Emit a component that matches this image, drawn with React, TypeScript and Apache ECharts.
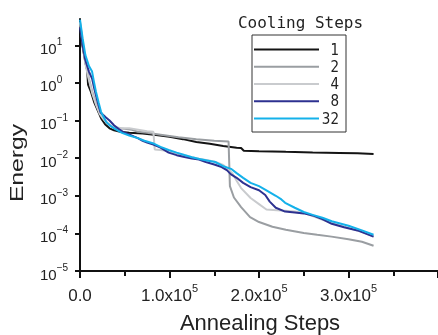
import React, { useEffect, useRef } from 'react';
import * as echarts from 'echarts';

const FONT = '"Liberation Sans", Arial, Helvetica, sans-serif';
const NARROW = '"Liberation Sans Narrow", "DejaVu Sans Condensed", "Liberation Sans", sans-serif';
const MONO = '"DejaVu Sans Mono", "Liberation Mono", monospace';

const legendTitle = 'Cooling Steps';
const xTitle = 'Annealing Steps';
const yTitle = 'Energy';

const seriesNames = ['1', '2', '4', '8', '32'];
const seriesColors = ['#141414', '#9a9ea2', '#c9cbce', '#2d3190', '#14b1ea'];

const cool1: [number, number][] = [
  [0, 22], [3000, 9], [6000, 3.5], [8000, 2.2], [9000, 0.9], [12000, 0.6], [16000, 0.3],
  [20000, 0.18], [24000, 0.11], [28000, 0.08], [33000, 0.062], [38000, 0.055], [45000, 0.05],
  [55000, 0.047], [70000, 0.045], [85000, 0.041], [100000, 0.037], [115000, 0.032],
  [130000, 0.027], [145000, 0.024], [160000, 0.021], [175000, 0.019], [180000, 0.0185],
  [183000, 0.0158], [200000, 0.0153], [230000, 0.0147], [260000, 0.0142], [290000, 0.0138],
  [310000, 0.0134], [328000, 0.0128],
];

const cool2: [number, number][] = [
  [0, 42], [3000, 12], [6000, 3.5], [10000, 1.3], [14000, 0.55], [18000, 0.28], [22000, 0.16],
  [26000, 0.12], [30000, 0.088], [35000, 0.07], [42000, 0.062], [50000, 0.06], [58000, 0.057],
  [65000, 0.05], [75000, 0.047], [90000, 0.042], [110000, 0.036], [130000, 0.032],
  [150000, 0.029], [166000, 0.0275], [167500, 0.0018], [172000, 0.0009], [180000, 0.0005],
  [190000, 0.00027], [200000, 0.0002], [215000, 0.00015], [230000, 0.000125], [250000, 0.000103],
  [265000, 0.000092], [281000, 0.000082], [300000, 0.00007], [315000, 0.00006], [328000, 0.000047],
];

const cool4: [number, number][] = [
  [0, 40], [3000, 11], [6000, 3.2], [10000, 1.2], [14000, 0.5], [18000, 0.26], [22000, 0.15],
  [26000, 0.11], [30000, 0.085], [36000, 0.068], [45000, 0.063], [55000, 0.062], [65000, 0.057],
  [75000, 0.052], [82000, 0.05], [83500, 0.017], [90000, 0.0165], [100000, 0.0152],
  [117000, 0.0118], [133000, 0.0096], [150000, 0.0082], [160000, 0.0066], [166700, 0.0048],
  [170000, 0.004], [175000, 0.0025], [180000, 0.0016], [190600, 0.00087], [200000, 0.0006],
  [208300, 0.00043], [220000, 0.00041], [229000, 0.0004], [240000, 0.00038], [250000, 0.00035],
  [260000, 0.00029], [271000, 0.00023], [281000, 0.00019], [300000, 0.00014], [315000, 0.00011],
  [328000, 0.000082],
];

const cool8: [number, number][] = [
  [0, 30], [3000, 10], [6000, 4], [10000, 2.0], [13500, 1.3], [16000, 0.7], [18500, 0.4],
  [20800, 0.25], [22900, 0.165], [26000, 0.14], [29000, 0.12], [33000, 0.1], [38000, 0.075],
  [43000, 0.06], [48000, 0.05], [55000, 0.043], [60000, 0.038], [64600, 0.034], [70000, 0.029],
  [75000, 0.026], [82000, 0.023], [90000, 0.019], [99000, 0.014], [108000, 0.012],
  [116700, 0.0107], [125000, 0.0098], [133000, 0.0092], [140600, 0.0079], [150000, 0.0068],
  [158300, 0.0058], [164000, 0.0048], [168750, 0.0037], [175000, 0.003], [182300, 0.0022],
  [190600, 0.0017], [200000, 0.0014], [207000, 0.00105], [212000, 0.0007], [218750, 0.00048],
  [229200, 0.00038], [240000, 0.00036], [250000, 0.00034], [260000, 0.0003], [270800, 0.00024],
  [281250, 0.00018], [295000, 0.000145], [310000, 0.00012], [328000, 0.000082],
];

const cool32: [number, number][] = [
  [0, 48], [3000, 15], [6000, 5.5], [10000, 2.8], [13500, 2.0], [15500, 1.1], [17700, 0.6],
  [20800, 0.3], [23500, 0.17], [26000, 0.13], [29200, 0.092], [34000, 0.072], [40000, 0.058],
  [46900, 0.047], [55000, 0.04], [64600, 0.034], [72000, 0.029], [81300, 0.025], [90000, 0.02],
  [99000, 0.0165], [108000, 0.014], [116700, 0.0121], [125000, 0.0106], [133300, 0.0095],
  [142000, 0.0087], [151000, 0.0079], [159400, 0.0062], [168750, 0.0052], [175000, 0.004],
  [182300, 0.003], [190600, 0.0022], [200000, 0.0018], [208300, 0.0014], [218750, 0.001],
  [225000, 0.0008], [229200, 0.00065], [240000, 0.00048], [250000, 0.00037], [260000, 0.00031],
  [270800, 0.00026], [281250, 0.00021], [300000, 0.00016], [315000, 0.00012], [328000, 0.000092],
];

const allSeries = [cool1, cool2, cool4, cool8, cool32];
const yTickValues = [1e-5, 1e-4, 1e-3, 1e-2, 1e-1, 1, 10];

export default function App() {
  const ref = useRef<HTMLDivElement>(null);
  useEffect(() => {
    if (!ref.current) return;
    const chart = echarts.init(ref.current, null, { renderer: 'svg' });
    const option: any = {
      animation: false,
      textStyle: { fontFamily: FONT },
      grid: { left: 80, top: 19, width: 384, height: 252 },
      xAxis: {
        type: 'value',
        min: 0,
        max: 400000,
        interval: 100000,
        axisLine: { show: true, onZero: false, lineStyle: { color: '#111', width: 2 } },
        axisTick: { show: true, length: 7, lineStyle: { color: '#111', width: 2 } },
        minorTick: { show: true, splitNumber: 2, length: 5, lineStyle: { color: '#111', width: 2 } },
        splitLine: { show: false },
        axisLabel: {
          showMaxLabel: false,
          margin: 10,
          color: '#222',
          formatter: (v: number) =>
            v === 0 ? '{n|0.0}' : `{n|${(v / 1e5).toFixed(1)}x10}{s|5}`,
          rich: {
            n: { fontSize: 17, fontFamily: FONT, color: '#222', padding: [6, 0, 0, 0] },
            s: { fontSize: 11, fontFamily: FONT, color: '#222', padding: [0, 0, 9, 0] },
          },
        },
      },
      yAxis: {
        type: 'log',
        logBase: 10,
        min: 1e-5,
        max: 50,
        axisLine: { show: true, lineStyle: { color: '#111', width: 2 } },
        axisTick: { show: true, length: 5, lineStyle: { color: '#111', width: 2 }, customValues: yTickValues },
        splitLine: { show: false },
        axisLabel: {
          customValues: yTickValues,
          align: 'left',
          margin: 40,
          color: '#222',
          formatter: (v: number) => {
            const e = Math.round(Math.log10(v));
            return `{b|10}{s|${e < 0 ? '\u2212' + -e : e}}`;
          },
          rich: {
            b: { fontSize: 15, fontFamily: FONT, color: '#222', padding: [6, 0, 0, 0] },
            s: { fontSize: 10, fontFamily: FONT, color: '#222', padding: [0, 0, 7, 0] },
          },
        },
      },
      legend: {
        orient: 'vertical',
        left: 252,
        top: 35,
        padding: [7, 7, 6, 1],
        itemGap: 2.25,
        itemWidth: 65,
        itemHeight: 13,
        borderColor: '#333',
        borderWidth: 1,
        selectedMode: false,
        itemStyle: { opacity: 0, borderWidth: 0 },
        lineStyle: { width: 2 },
        data: seriesNames,
        formatter: (n: string) => `{a|${n}}`,
        textStyle: {
          fontFamily: NARROW,
          fontSize: 15,
          color: '#222',
          lineHeight: 13,
          rich: { a: { width: 15, align: 'right', fontFamily: NARROW, fontSize: 15, lineHeight: 13, color: '#222' } },
        },
      },
      graphic: [
        {
          type: 'text',
          x: 300.5,
          y: 22,
          style: { text: legendTitle, fontFamily: MONO, fontSize: 16, fill: '#222', align: 'center', verticalAlign: 'middle' },
        },
        {
          type: 'text',
          x: 17,
          y: 163,
          rotation: Math.PI / 2,
          scaleX: 1.3,
          style: { text: yTitle, fontFamily: FONT, fontSize: 19, fill: '#222', align: 'center', verticalAlign: 'middle' },
        },
        {
          type: 'text',
          x: 260,
          y: 322,
          style: { text: xTitle, fontFamily: FONT, fontSize: 22, fill: '#222', align: 'center', verticalAlign: 'middle' },
        },
      ],
      series: allSeries.map((d, i) => ({
        name: seriesNames[i],
        type: 'line',
        data: d,
        showSymbol: false,
        symbol: 'none',
        color: seriesColors[i],
        lineStyle: { color: seriesColors[i], width: 2 },
        z: 2 + i,
      })),
    };
    chart.setOption(option);
    return () => chart.dispose();
  }, []);
  return <div ref={ref} style={{ position: 'fixed', left: 0, top: 0, width: 438, height: 335 }} />;
}
